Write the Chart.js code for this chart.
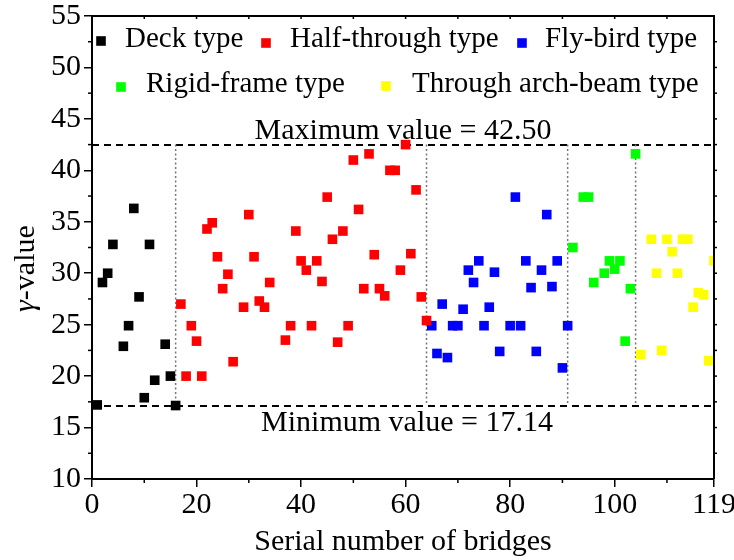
<!DOCTYPE html>
<html><head><meta charset="utf-8">
<script src="https://cdn.jsdelivr.net/npm/chart.js@4.4.0/dist/chart.umd.min.js"></script>
<style>html,body{margin:0;padding:0;background:#fff}#wrap{width:734px;height:560px}</style>
</head><body><div id="wrap"><canvas id="c" width="734" height="560"></canvas></div>
<script>
// ---- data ----
const deckX = [1,2,3,4,6,7,8,9,10,11,12,14,15,16];
const deckY = [17.2,29.1,30.0,32.8,22.9,24.9,36.3,27.7,17.9,32.8,19.6,23.1,20.0,17.14];
const halfX = [17,18,19,20,21,22,23,24,25,26,27,29,30,31,32,33,34,37,38,39,40,41,42,43,44,45,46,47,48,49,50,51,52,53,54,55,56,57,58,59,60,61,62,63,64];
const halfY = [27.0,20.0,24.9,23.4,20.0,34.3,34.9,31.6,28.5,29.9,21.4,26.7,35.7,31.6,27.3,26.7,29.1,23.5,24.9,34.1,31.2,30.3,24.9,31.2,29.2,37.4,33.3,23.3,34.1,24.9,41.0,36.2,28.5,41.6,31.8,28.5,27.8,40.0,40.0,30.3,42.5,31.9,38.1,27.7,25.4];
const flyX = [65,66,67,68,69,70,71,72,73,74,75,76,77,78,80,81,82,83,84,85,86,87,88,89,90,91];
const flyY = [24.9,22.2,27.0,21.8,24.9,24.9,26.5,30.3,29.1,31.2,24.9,26.7,30.1,22.4,24.9,37.4,24.9,31.2,28.6,22.4,30.3,35.7,28.7,31.2,20.8,24.9];
const rigidX = [92,94,95,96,98,99,100,101,102,103,104];
const rigidY = [32.5,37.4,37.4,29.1,30.0,31.2,30.4,31.2,23.4,28.5,41.6];
const archX = [105,107,108,109,110,111,112,113,114,115,116,117,118,119];
const archY = [22.1,33.3,30.0,22.5,33.3,32.1,30.0,33.3,33.3,26.7,28.1,27.9,21.5,31.2];
const seriesNames = ['Deck type','Half-through type','Fly-bird type','Rigid-frame type','Through arch-beam type'];
const xTickValues = [0,20,40,60,80,100,119];
const yTickValues = [10,15,20,25,30,35,40,45,50,55];
const maxValue = 42.50;
const minValue = 17.14;
const dividerX = [16,64,91,104];

// ---- styling ----
const FONT = '"Liberation Serif","Times New Roman",serif';
const colors = ['#000000','#ff0000','#0000ff','#00ff00','#ffff00'];
const pts = (xs, ys) => xs.map((v,i)=>({x:v,y:ys[i]}));
const allSeries = [pts(deckX,deckY),pts(halfX,halfY),pts(flyX,flyY),pts(rigidX,rigidY),pts(archX,archY)];

const datasets = allSeries.map((d,i)=>({
  label: seriesNames[i], data: d,
  pointStyle:'rect', pointRadius:6.8, pointHoverRadius:6.8,
  backgroundColor: colors[i], borderColor: colors[i], borderWidth:0,
  clip: 0
}));

const decor = {
  id:'decor',
  beforeDatasetsDraw(chart){
    const {ctx, chartArea:a, scales:{x,y}} = chart;
    ctx.save();
    ctx.strokeStyle='#000'; ctx.lineWidth=2; ctx.setLineDash([7,5]);
    [maxValue,minValue].forEach(v=>{
      const py=Math.round(y.getPixelForValue(v))+0.0;
      ctx.beginPath(); ctx.moveTo(a.left,py); ctx.lineTo(a.right,py); ctx.stroke();
    });
    ctx.strokeStyle='#777'; ctx.lineWidth=1.5; ctx.setLineDash([2,2.5]);
    dividerX.forEach(v=>{
      const px=x.getPixelForValue(v);
      ctx.beginPath(); ctx.moveTo(px,y.getPixelForValue(maxValue)); ctx.lineTo(px,y.getPixelForValue(minValue)); ctx.stroke();
    });
    ctx.restore();
  },
  afterDraw(chart){
    const {ctx, chartArea:a, scales:{x,y}} = chart;
    ctx.save();
    ctx.strokeStyle='#000'; ctx.setLineDash([]);
    // frame top/right
    ctx.lineWidth=2;
    ctx.beginPath(); ctx.moveTo(a.left,a.top); ctx.lineTo(a.right,a.top); ctx.lineTo(a.right,a.bottom); ctx.stroke();
    ctx.lineWidth=1.5;
    // minor ticks
    for(let v=10; v<119; v+=20){
      const px=x.getPixelForValue(v);
      ctx.beginPath(); ctx.moveTo(px,a.bottom); ctx.lineTo(px,a.bottom+4); ctx.stroke();
    }
    for(let v=10; v<=110; v+=10){
      const px=x.getPixelForValue(v);
      ctx.beginPath(); ctx.moveTo(px,a.top); ctx.lineTo(px,a.top+3); ctx.stroke();
    }
    for(let v=12.5; v<55; v+=5){
      const py=y.getPixelForValue(v);
      ctx.beginPath(); ctx.moveTo(a.left,py); ctx.lineTo(a.left-4,py); ctx.stroke();
    }
    for(let v=12.5; v<55; v+=2.5){
      const py=y.getPixelForValue(v);
      ctx.beginPath(); ctx.moveTo(a.right,py); ctx.lineTo(a.right+3,py); ctx.stroke();
    }
    // legend
    const leg = [
      {mx:101, my:41, tx:125, ty:47},
      {mx:266, my:43, tx:290, ty:47},
      {mx:522, my:43, tx:545, ty:47},
      {mx:121, my:87, tx:146, ty:92},
      {mx:386, my:86, tx:412, ty:92}
    ];
    ctx.font='29px '+FONT; ctx.textBaseline='alphabetic'; ctx.textAlign='left';
    leg.forEach((l,i)=>{
      ctx.fillStyle=colors[i];
      ctx.fillRect(l.mx-4.8,l.my-4.8,9.6,9.6);
      ctx.fillStyle='#000';
      ctx.fillText(seriesNames[i], l.tx, l.ty);
    });
    // annotations
    ctx.font='30px '+FONT; ctx.textAlign='center';
    ctx.fillText('Maximum value = '+maxValue.toFixed(2), (a.left+a.right)/2, y.getPixelForValue(maxValue)-6);
    ctx.fillText('Minimum value = '+minValue.toFixed(2), (a.left+a.right)/2+4, y.getPixelForValue(minValue)+25);
    // axis titles
    ctx.fillText('Serial number of bridges', (a.left+a.right)/2, 550);
    ctx.save();
    ctx.translate(34, 312); ctx.rotate(-Math.PI/2);
    ctx.textAlign='left';
    ctx.font='italic 30px '+FONT;
    ctx.fillText('\u03b3', 0, 0);
    const gw = ctx.measureText('\u03b3').width;
    ctx.font='30px '+FONT;
    ctx.fillText('-value', gw, 0);
    ctx.restore();
    ctx.restore();
  }
};

new Chart(document.getElementById('c'), {
  type:'scatter',
  data:{datasets},
  options:{
    responsive:false, animation:false, devicePixelRatio:1,
    layout:{padding:{top:16,right:20,left:0,bottom:0}},
    plugins:{legend:{display:false}, tooltip:{enabled:false}},
    events:[],
    scales:{
      x:{type:'linear', min:0, max:119,
        afterBuildTicks:s=>{s.ticks=xTickValues.map(v=>({value:v}));},
        afterFit:s=>{s.height=81; s.paddingLeft=0; s.paddingRight=0;},
        ticks:{font:{family:FONT,size:30}, color:'#000', padding:0, maxRotation:0, autoSkip:false},
        grid:{drawOnChartArea:false, tickLength:8, color:'#000', lineWidth:1.5},
        border:{color:'#000', width:2}
      },
      y:{type:'linear', min:10, max:55,
        afterBuildTicks:s=>{s.ticks=yTickValues.map(v=>({value:v}));},
        afterFit:s=>{s.width=92; s.paddingTop=0; s.paddingBottom=0;},
        ticks:{font:{family:FONT,size:30}, color:'#000', padding:3},
        grid:{drawOnChartArea:false, tickLength:8, color:'#000', lineWidth:1.5},
        border:{color:'#000', width:2}
      }
    }
  },
  plugins:[decor]
});
</script></body></html>
